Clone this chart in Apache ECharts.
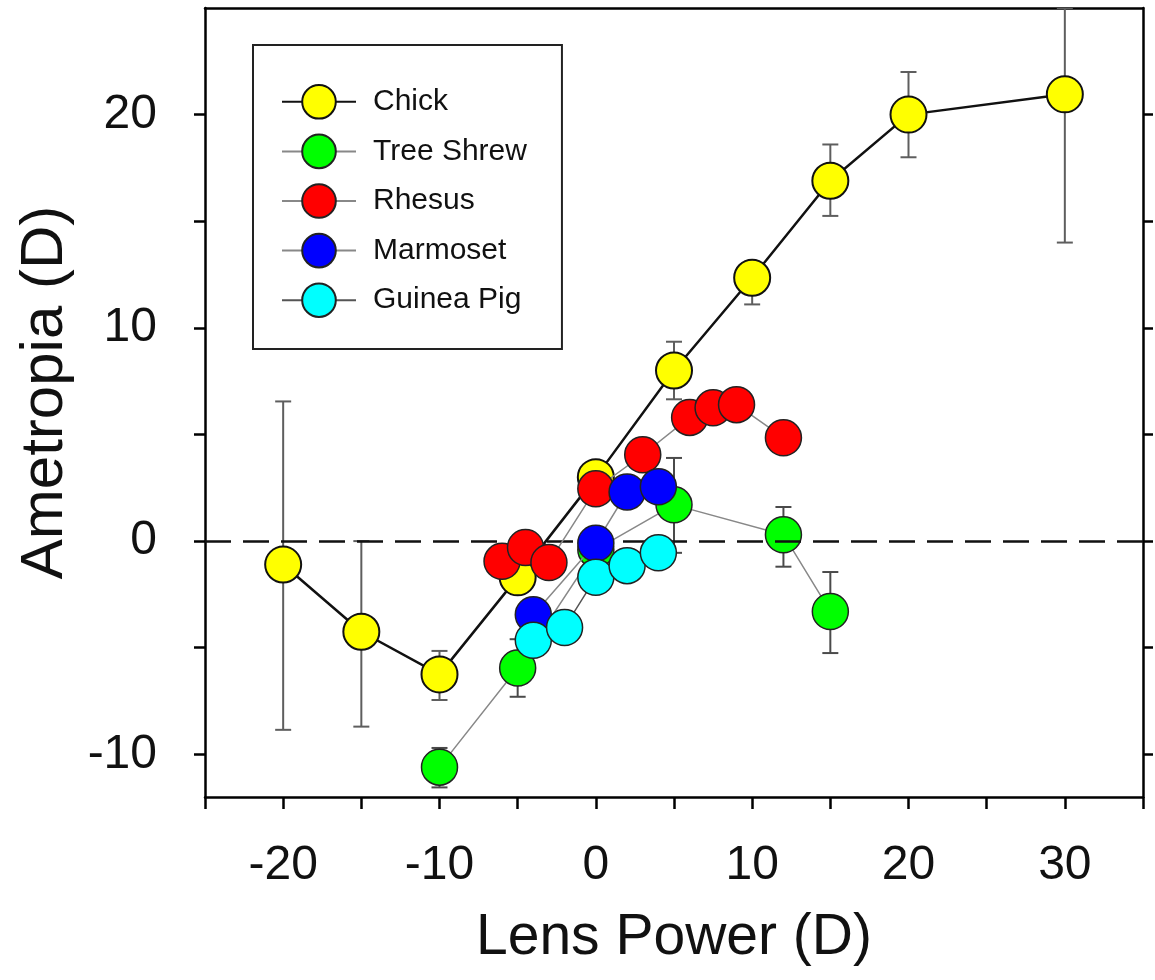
<!DOCTYPE html>
<html><head><meta charset="utf-8">
<script src="https://cdn.jsdelivr.net/npm/echarts@6/dist/echarts.min.js"></script>
<style>html,body{margin:0;padding:0;background:#fff}#c{width:1155px;height:980px}</style>
</head><body><div id="c"></div>
<script>
// ---- data ----
const chickX    = [-20, -15, -10, -5, 0, 5, 10, 15, 20, 30];
const chickY    = [-1.1, -4.25, -6.25, -1.7, 3.0, 8.0, 12.35, 16.9, 20.0, 20.95];
const chickLow  = [-8.85, -8.7, -7.45, null, null, 6.65, 11.1, 15.25, 18.0, 14.0];
const chickHigh = [6.55, 0.0, -5.15, null, null, 9.35, 13.1, 18.6, 22.0, 25.0];

const shrewX    = [-10, -5, 0, 5, 12, 15];
const shrewY    = [-10.6, -5.95, -0.4, 1.7, 0.3, -3.3];
const shrewLow  = [-11.55, -7.3, null, -0.55, -1.2, -5.25];
const shrewHigh = [-9.7, -4.6, null, 3.9, 1.6, -1.45];

const rhesusX = [-6, -4.5, -3, 0, 3, 6, 7.5, 9, 12];
const rhesusY = [-0.95, -0.3, -1.0, 2.45, 4.05, 5.8, 6.25, 6.4, 4.85];

const marmosetX = [-4, 0, 2, 4];
const marmosetY = [-3.45, -0.1, 2.3, 2.55];

const guineaX = [-4, -2, 0, 2, 4];
const guineaY = [-4.65, -4.05, -1.7, -1.15, -0.55];

const seriesNames = ['Chick', 'Tree Shrew', 'Rhesus', 'Marmoset', 'Guinea Pig'];
const xTickLabels = [-20, -10, 0, 10, 20, 30];
const xTicks = [-25, -20, -15, -10, -5, 0, 5, 10, 15, 20, 25, 30, 35];
const yTickLabels = [-10, 0, 10, 20];
const yTicks = [-10, -5, 0, 5, 10, 15, 20];

// ---- helpers ----
const FONT = 'Liberation Sans, Arial, sans-serif';
function pairs(xs, ys) { return xs.map((x, i) => [x, ys[i]]); }
function errData(xs, lo, hi) {
  const d = [];
  xs.forEach((x, i) => { if (lo[i] != null) d.push([x, lo[i], hi[i]]); });
  return d;
}
function errSeries(name, data, color, z) {
  return {
    type: 'custom', name: name, z: z, silent: true, clip: true,
    encode: { x: 0, y: [1, 2] },
    data: data,
    renderItem: function (params, api) {
      const x = api.value(0), lo = api.value(1), hi = api.value(2);
      const a = api.coord([x, hi]), b = api.coord([x, lo]);
      const w = 8;
      const st = { stroke: color, lineWidth: 2 };
      return { type: 'group', children: [
        { type: 'line', shape: { x1: a[0], y1: a[1], x2: b[0], y2: b[1] }, style: st },
        { type: 'line', shape: { x1: a[0] - w, y1: a[1], x2: a[0] + w, y2: a[1] }, style: st },
        { type: 'line', shape: { x1: b[0] - w, y1: b[1], x2: b[0] + w, y2: b[1] }, style: st }
      ]};
    }
  };
}
function lineSeries(name, data, fill, lineColor, lineWidth, z, border, bw) {
  return {
    type: 'line', name: name, data: data, z: z,
    symbol: 'circle', symbolSize: 36,
    itemStyle: { color: fill, borderColor: border || '#222', borderWidth: bw || 1.5 },
    lineStyle: { color: lineColor, width: lineWidth },
    emphasis: { disabled: true }, animation: false
  };
}

const chart = echarts.init(document.getElementById('c'), null, { renderer: 'canvas' });
const axisLine = { show: true, onZero: false, lineStyle: { color: '#000', width: 2.5 } };

const chick = lineSeries('Chick', pairs(chickX, chickY), '#FFFF00', '#111', 2.5, 3, '#111', 2);
chick.markLine = {
  silent: true, symbol: ['none', 'none'], label: { show: false },
  lineStyle: { color: '#111', width: 2.5, type: [26, 12] },
  data: [{ yAxis: 0 }], animation: false
};

chart.setOption({
  animation: false,
  backgroundColor: '#fff',
  grid: { left: 205, right: 12, top: 8, bottom: 183 },
  legend: {
    orient: 'vertical', left: 253, top: 45,
    padding: [39, 35, 31, 28], itemGap: 14, itemWidth: 74, itemHeight: 42,
    borderColor: '#222', borderWidth: 2, backgroundColor: '#fff',
    textStyle: { fontSize: 30, fontFamily: FONT, color: '#111', padding: [0, 0, 0, 12] },
    data: seriesNames, selectedMode: false
  },
  xAxis: [{
    type: 'value', min: -25, max: 35, position: 'bottom',
    name: 'Lens Power (D)', nameLocation: 'middle', nameGap: 113,
    nameTextStyle: { fontSize: 57, fontFamily: FONT, color: '#111' },
    axisLine: axisLine,
    axisTick: { show: true, inside: false, length: 12, customValues: xTicks, lineStyle: { color: '#000', width: 2.5 } },
    axisLabel: { show: true, margin: 45, fontSize: 48, fontFamily: FONT, color: '#111', customValues: xTickLabels },
    splitLine: { show: false }
  }, {
    type: 'value', min: -25, max: 35, position: 'top',
    axisLine: axisLine, axisTick: { show: false }, axisLabel: { show: false }, splitLine: { show: false }
  }],
  yAxis: [{
    type: 'value', min: -12, max: 25, position: 'left',
    name: 'Ametropia (D)', nameLocation: 'middle', nameGap: 130, nameRotate: 90,
    nameTextStyle: { fontSize: 60, fontFamily: FONT, color: '#111', padding: [0, 0, 0, 20] },
    axisLine: axisLine,
    axisTick: { show: true, inside: false, length: 11, customValues: yTicks, lineStyle: { color: '#000', width: 2.5 } },
    axisLabel: { show: true, margin: 48, fontSize: 48, fontFamily: FONT, color: '#111', customValues: yTickLabels },
    splitLine: { show: false }
  }, {
    type: 'value', min: -12, max: 25, position: 'right',
    axisLine: axisLine,
    axisTick: { show: true, inside: false, length: 10, customValues: yTicks, lineStyle: { color: '#000', width: 2.5 } },
    axisLabel: { show: false }, splitLine: { show: false }
  }],
  series: [
    errSeries('Chick SE', errData(chickX, chickLow, chickHigh), '#5e5e5e', 1),
    errSeries('Tree Shrew SE', errData(shrewX, shrewLow, shrewHigh), '#4a4a4a', 1),
    chick,
    lineSeries('Tree Shrew', pairs(shrewX, shrewY), '#00FF00', '#888', 1.5, 4),
    lineSeries('Rhesus', pairs(rhesusX, rhesusY), '#FF0000', '#888', 1.5, 5),
    lineSeries('Marmoset', pairs(marmosetX, marmosetY), '#0000FF', '#888', 1.5, 6),
    lineSeries('Guinea Pig', pairs(guineaX, guineaY), '#00FFFF', '#555', 1.5, 7)
  ]
});
</script></body></html>
